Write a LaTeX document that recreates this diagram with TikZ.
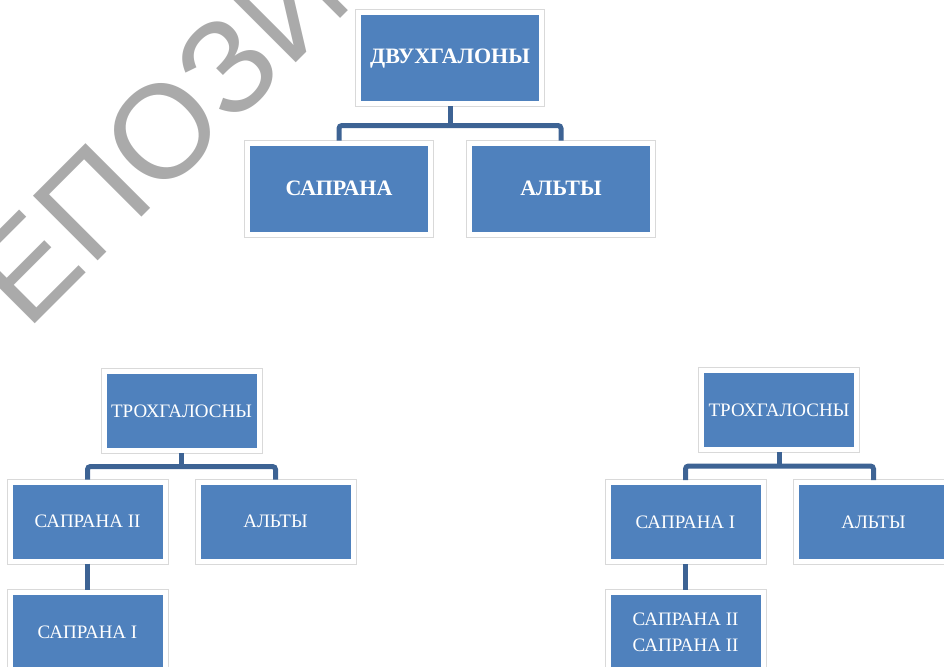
\documentclass[tikz,border=0pt]{standalone}
\usepackage{fontspec}
\setmainfont{Liberation Serif}
\newfontfamily\wmfont{Liberation Sans}
\usetikzlibrary{positioning}
\definecolor{boxblue}{RGB}{79,129,189}
\definecolor{linkblue}{RGB}{61,99,148}
\definecolor{wmgray}{RGB}{170,170,170}

\begin{document}
\begin{tikzpicture}[x=1pt, y=-1pt,
    box/.style={fill=boxblue, draw=white, line width=5pt, preaction={draw=black!15, line width=7pt}, text=white, inner sep=0pt, align=center},
    bigbox/.style={box, minimum width=183pt, minimum height=91pt, font=\bfseries\fontsize{22}{26}\selectfont},
    smallbox/.style={box, minimum width=155pt, minimum height=79pt, font=\fontsize{19}{26}\selectfont},
    link/.style={draw=linkblue, line width=5pt, rounded corners=3pt}]
            \clip (0, 0) rectangle (944, 666);
            % watermark
            \node[wmgray, anchor=base west, rotate=45, inner sep=0pt, font=\wmfont\fontsize{133}{133}\selectfont] (wm) at (-35, 394) {РЕПОЗИТОРИЙ};
            % top tree
            \node[bigbox] (dvuh) at (450, 58.5) {ДВУХГАЛОНЫ};
            \node[bigbox] (sap) at (339, 188.5) {САПРАНА};
            \node[bigbox] (alt) at (561, 188.5) {АЛЬТЫ};
            \draw[link] (sap.north) -- ++(0, -15) coordinate (bar) -| (alt.north);
            \draw[link] (dvuh.south) -- (dvuh.south |- bar);
            % left tree
            \node[smallbox] (troxL) at (181.5, 411) {ТРОХГАЛОСНЫ};
            \node[smallbox] (sapIIL) at (87.5, 521.5) {САПРАНА II};
            \node[smallbox] (altL) at (275.5, 521.5) {АЛЬТЫ};
            \node[smallbox] (sapIL) at (87.5, 632) {САПРАНА I};
            \draw[link] (sapIIL.north) -- ++(0, -13) coordinate (barL) -| (altL.north);
            \draw[link] (troxL.south) -- (troxL.south |- barL);
            \draw[link] (sapIIL.south) -- (sapIL.north);
            % right tree
            \node[smallbox] (troxR) at (779, 410) {ТРОХГАЛОСНЫ};
            \node[smallbox] (sapIR) at (685.5, 522) {САПРАНА I};
            \node[smallbox] (altR) at (873.5, 522) {АЛЬТЫ};
            \node[smallbox] (sapIIR) at (685.5, 632) {САПРАНА II\\САПРАНА II};
            \draw[link] (sapIR.north) -- ++(0, -14) coordinate (barR) -| (altR.north);
            \draw[link] (troxR.south) -- (troxR.south |- barR);
            \draw[link] (sapIR.south) -- (sapIIR.north);
        \end{tikzpicture}
\end{document}
